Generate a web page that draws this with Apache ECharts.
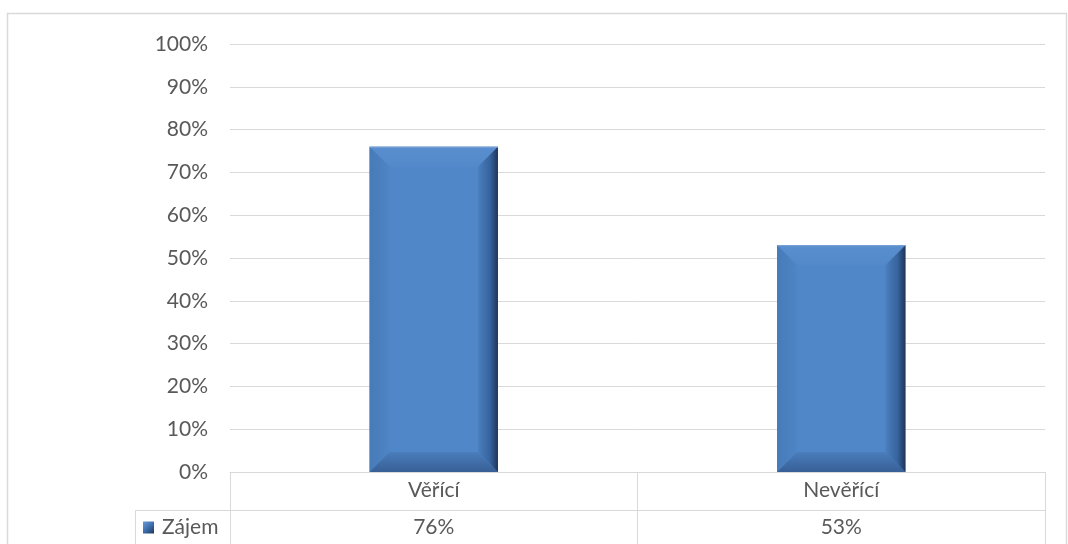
<!DOCTYPE html>
<html><head><meta charset="utf-8">
<script src="https://cdn.jsdelivr.net/npm/echarts@6/dist/echarts.min.js"></script>
<style>html,body{margin:0;padding:0;background:#fff}#c{width:1068px;height:544px}</style>
</head><body><div id="c"></div>
<script>
const categories = ['Věřící', 'Nevěřící'];
const seriesName = 'Zájem';
const values = [76, 53];
const yTicks = { min: 0, max: 100, interval: 10 };

const chart = echarts.init(document.getElementById('c'));
const font = 'Lato, "Open Sans", sans-serif';
const txt = '#595959';
const line = '#d9d9d9';
const fs = 21;

function renderBar(params, api) {
  const cat = api.value(0), v = api.value(1);
  const base = api.coord([cat, 0]);
  const topP = api.coord([cat, v]);
  const w = api.size([1, 0])[0] * 0.315;
  const L = base[0] - w / 2, R = base[0] + w / 2, T = topP[1], B = base[1];
  const b = Math.min(20, w / 2, (B - T) / 2);
  return {
    type: 'group',
    children: [
      { type: 'rect', shape: { x: L, y: T, width: R - L, height: B - T }, style: { fill: '#5087c8' } },
      { type: 'polygon', shape: { points: [[L, T], [R, T], [R - b, T + b], [L + b, T + b]] },
        style: { fill: new echarts.graphic.LinearGradient(0, 0, 0, 1, [{ offset: 0, color: '#5a8ece' }, { offset: 1, color: '#5389ca' }]) } },
      { type: 'polygon', shape: { points: [[L, T], [L + b, T + b], [L + b, B - b], [L, B]] },
        style: { fill: new echarts.graphic.LinearGradient(0, 0, 1, 0, [{ offset: 0, color: '#477ab8' }, { offset: 1, color: '#4e85c5' }]) } },
      { type: 'polygon', shape: { points: [[L, B], [L + b, B - b], [R - b, B - b], [R, B]] },
        style: { fill: new echarts.graphic.LinearGradient(0, 0, 0, 1, [{ offset: 0, color: '#4a7dbc' }, { offset: 1, color: '#385f96' }]) } },
      { type: 'polygon', shape: { points: [[R, T], [R, B], [R - b, B - b], [R - b, T + b]] },
        style: { fill: new echarts.graphic.LinearGradient(0, 0, 1, 0, [{ offset: 0, color: '#4b7fbe' }, { offset: 0.6, color: '#36649e' }, { offset: 1, color: '#1e3658' }]) } },
      { type: 'line', shape: { x1: L, y1: T + 0.5, x2: R, y2: T + 0.5 }, style: { stroke: '#7aa3d8', lineWidth: 1 } }
    ]
  };
}

const legendIcon = new echarts.graphic.LinearGradient(0, 0, 1, 1, [{ offset: 0, color: '#6c9ad6' }, { offset: 0.5, color: '#3f6fae' }, { offset: 1, color: '#1d3556' }]);

chart.setOption({
  animation: false,
  textStyle: { fontFamily: font },
  grid: { left: 230, right: 23, top: 44, bottom: 72 },
  xAxis: [
    { type: 'category', data: categories, position: 'bottom',
      axisLine: { show: true, lineStyle: { color: line, width: 1 } },
      axisTick: { show: true, alignWithLabel: false, length: 76, lineStyle: { color: line, width: 1 } },
      axisLabel: { color: txt, fontSize: fs, fontFamily: font, margin: 8 } },
    { type: 'category', data: values.map(v => v + '%'), position: 'bottom', offset: 38,
      axisLine: { show: false }, axisTick: { show: false },
      axisLabel: { color: txt, fontSize: fs, fontFamily: font, margin: 7 } }
  ],
  yAxis: { type: 'value', min: yTicks.min, max: yTicks.max, interval: yTicks.interval,
    axisLine: { show: false }, axisTick: { show: false },
    axisLabel: { formatter: '{value}%', color: txt, fontSize: fs, fontFamily: font, margin: 22 },
    splitLine: { lineStyle: { color: line, width: 1 } } },
  legend: { left: 143, top: 517, padding: 0, itemWidth: 11, itemHeight: 12, icon: 'rect',
    data: [{ name: seriesName, itemStyle: { color: legendIcon } }],
    textStyle: { color: txt, fontSize: fs, fontFamily: font, padding: [0, 0, 0, 3] } },
  graphic: [
    { type: 'rect', shape: { x: 7.5, y: 13.5, width: 1059, height: 560 }, style: { fill: null, stroke: line, lineWidth: 1.5 }, silent: true },
    { type: 'line', shape: { x1: 135, y1: 510.5, x2: 1045, y2: 510.5 }, style: { stroke: line, lineWidth: 1 }, silent: true },
    { type: 'line', shape: { x1: 135.5, y1: 510, x2: 135.5, y2: 548 }, style: { stroke: line, lineWidth: 1 }, silent: true }
  ],
  series: [{
    type: 'custom', name: seriesName, xAxisIndex: 0,
    itemStyle: { color: '#4f81bd' },
    data: values.map((v, i) => [i, v]),
    encode: { x: 0, y: 1 },
    renderItem: renderBar,
    z: 3
  }]
});
</script></body></html>
